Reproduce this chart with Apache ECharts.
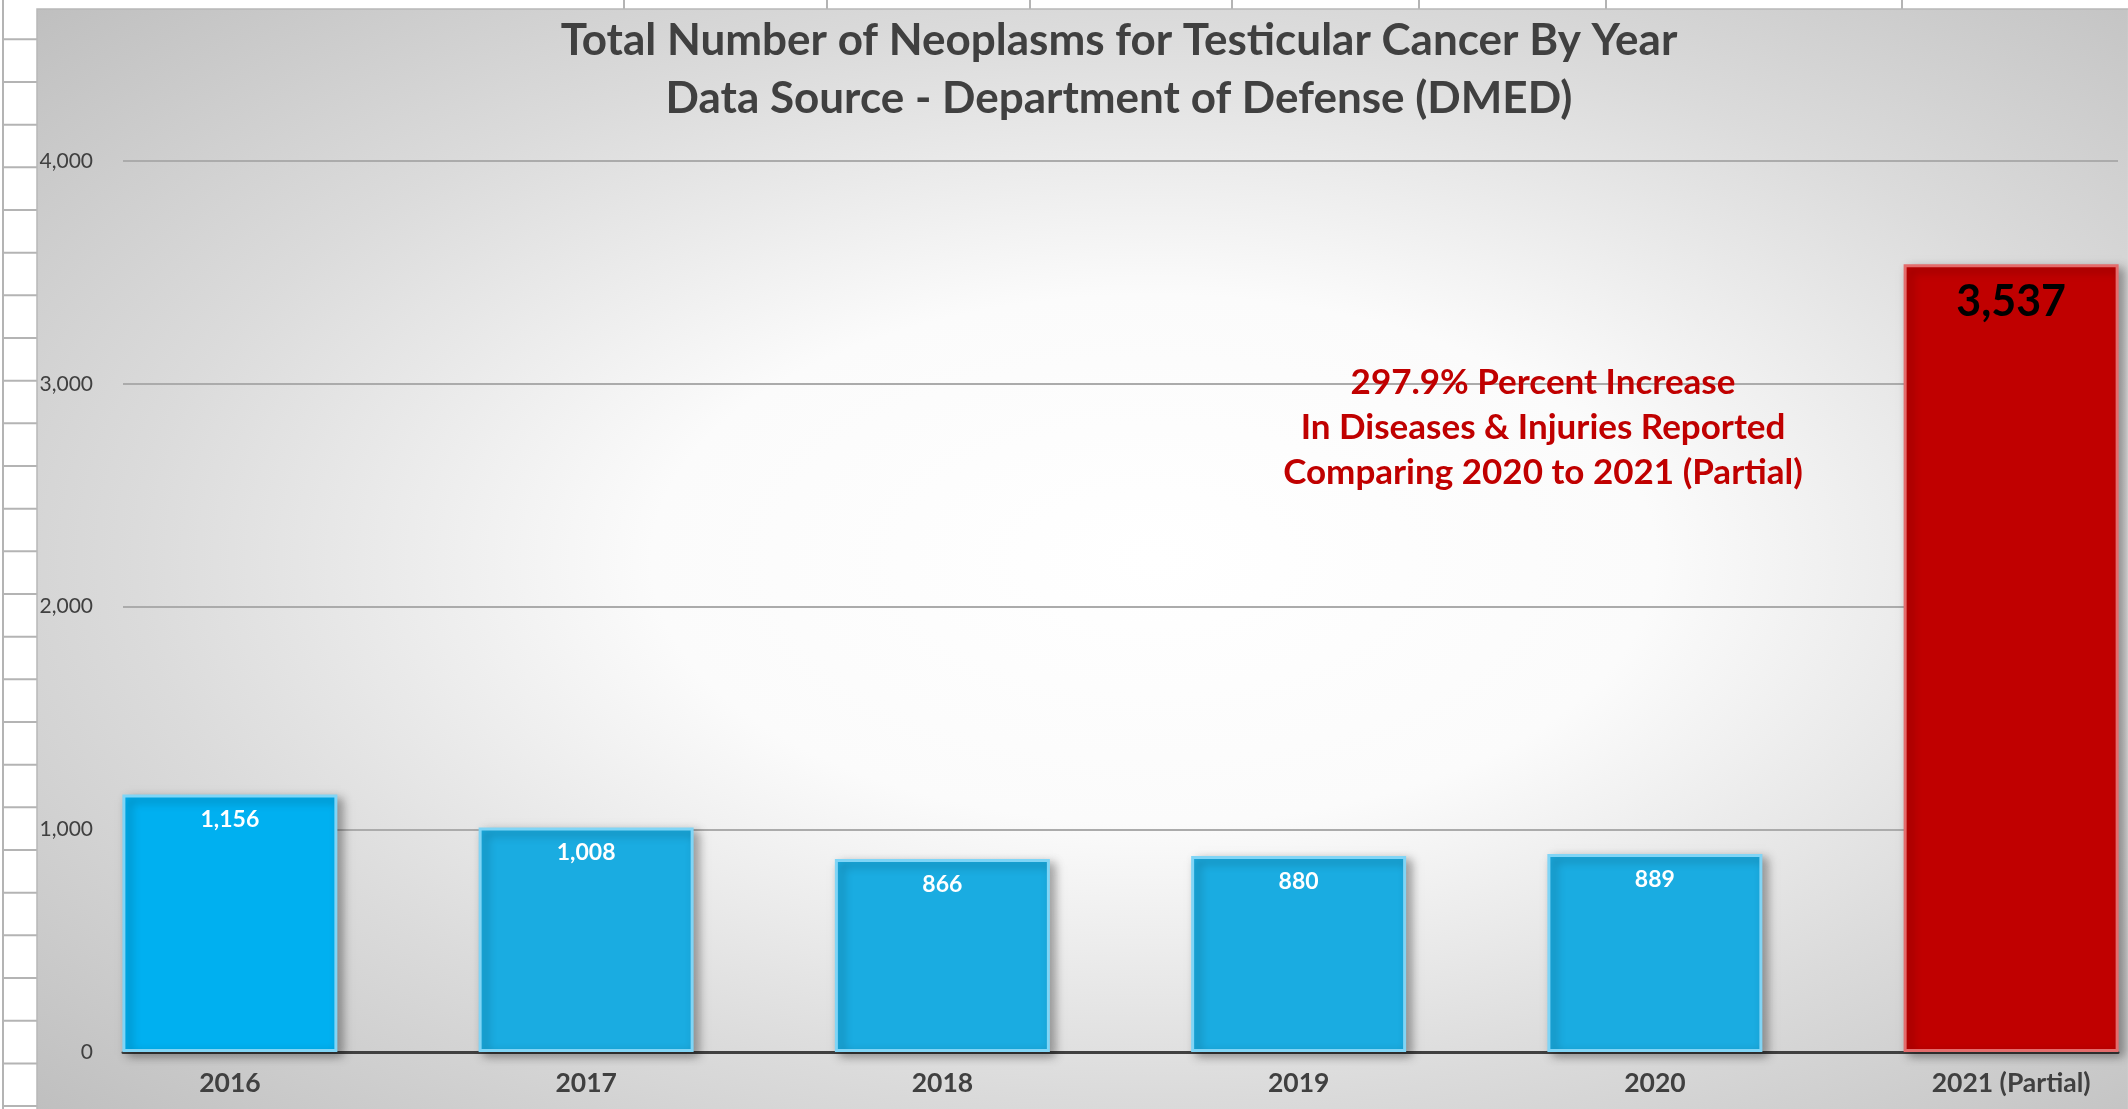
<!DOCTYPE html>
<html>
<head>
<meta charset="utf-8">
<title>Total Number of Neoplasms for Testicular Cancer By Year</title>
<script src="https://cdn.jsdelivr.net/npm/echarts@6/dist/echarts.min.js"></script>
<style>
    html, body { margin: 0; padding: 0; background: #fff; }
    #neoplasms { width: 2128px; height: 1109px; }
</style>
</head>
<body>
<div id="neoplasms"></div>
<script>
var years = ['2016', '2017', '2018', '2019', '2020', '2021 (Partial)'];
var counts = [1156, 1008, 866, 880, 889, 3537];
var yTicks = [0, 1000, 2000, 3000, 4000];
var titleLines = ['Total Number of Neoplasms for Testicular Cancer By Year', 'Data Source - Department of Defense (DMED)'];
var noteLines = ['297.9% Percent Increase', 'In Diseases & Injuries Reported', 'Comparing 2020 to 2021 (Partial)'];

function fmt(v) {
    return String(v).replace(/\B(?=(\d{3})+(?!\d))/g, ',');
}

// spreadsheet cells behind the chart + the chart's own backdrop
var sheet = [];
var cellLine = { stroke: '#b4b4b4', lineWidth: 2 };
sheet.push({ type: 'line', z: -19, shape: { x1: 3, y1: 0, x2: 3, y2: 1109 }, style: cellLine });
for (var gy = 39.3; gy < 1109; gy += 42.67) {
    sheet.push({ type: 'line', z: -19, shape: { x1: 3, y1: gy, x2: 37, y2: gy }, style: cellLine });
}
[624, 827, 1030, 1232, 1419, 1606, 1902].forEach(function (gx) {
    sheet.push({ type: 'line', z: -19, shape: { x1: gx, y1: 0, x2: gx, y2: 9 }, style: cellLine });
});
sheet.push({
    type: 'rect', z: -18, x: 37, y: 9, scaleX: 1.9,
    shape: { x: 0, y: 0, width: 1100.5, height: 1100 },
    style: {
        fill: {
            type: 'radial', x: 0.534, y: 0.5, r: 0.75,
            colorStops: [
                { offset: 0, color: '#ffffff' },
                { offset: 0.32, color: '#fbfbfb' },
                { offset: 0.65, color: '#dbdbdb' },
                { offset: 1, color: '#bdbdbd' }
            ]
        }
    }
});
sheet.push({
    type: 'rect', z: -17, shape: { x: 37, y: 9, width: 2100, height: 1110 },
    style: { fill: null, stroke: '#b8b8b8', lineWidth: 1.5 }
});

var chart = echarts.init(document.getElementById('neoplasms'));
var option = {
    backgroundColor: '#ffffff',
    animation: false,
    textStyle: { fontFamily: 'Lato, "Open Sans", sans-serif' },
    graphic: { elements: sheet },
    title: [
        {
            text: titleLines.join('\n'),
            left: 1119, top: 12, textAlign: 'center', padding: 0,
            textStyle: { fontSize: 44, fontWeight: 'bold', color: '#404040', lineHeight: 58, fontFamily: 'Lato' }
        },
        {
            text: noteLines.join('\n'),
            left: 1543, top: 360, textAlign: 'center', padding: 0,
            textStyle: { fontSize: 35, fontWeight: 'bold', color: '#c00000', lineHeight: 45, fontFamily: 'Lato' }
        }
    ],
    grid: { left: 123, right: 10, top: 161, bottom: 57, containLabel: false, outerBoundsMode: 'none' },
    xAxis: {
        type: 'value',
        min: -0.3,
        max: 5.3,
        axisLine: { show: true, onZero: false, lineStyle: { color: '#404040', width: 3 } },
        axisTick: { show: false },
        splitLine: { show: false },
        axisLabel: {
            customValues: years.map(function (y, i) { return i; }),
            formatter: function (v) { return years[v]; },
            fontSize: 26.5, fontWeight: 'bold', color: '#404040', margin: 18, fontFamily: 'Lato'
        }
    },
    yAxis: {
        type: 'value',
        min: yTicks[0],
        max: yTicks[yTicks.length - 1],
        interval: yTicks[1] - yTicks[0],
        axisLine: { show: false },
        axisTick: { show: false },
        splitLine: { lineStyle: { color: '#ababab', width: 2 } },
        axisLabel: { formatter: fmt, fontSize: 21, color: '#404040', margin: 30, fontFamily: 'Lato' }
    },
    series: [{
        type: 'bar',
        barWidth: 215,
        data: counts.map(function (v, i) {
            var last = i === counts.length - 1;
            var item = {
                value: [i, v],
                itemStyle: {
                    color: last ? '#c00000' : (i === 0 ? '#00b0f0' : '#1aace1'),
                    borderColor: last ? '#e46c6c' : '#80d5f6'
                }
            };
            if (last) {
                item.label = { fontSize: 43, color: '#000000', distance: 16 };
            }
            return item;
        }),
        label: {
            show: true,
            position: 'insideTop',
            distance: 14,
            formatter: function (p) { return fmt(p.value[1]); },
            color: '#ffffff', fontSize: 23, fontWeight: 'bold', fontFamily: 'Lato'
        },
        itemStyle: {
            borderWidth: 3,
            shadowBlur: 10,
            shadowOffsetX: 5,
            shadowOffsetY: 4,
            shadowColor: 'rgba(0, 0, 0, 0.35)'
        }
    }]
};
chart.setOption(option);
</script>
</body>
</html>
